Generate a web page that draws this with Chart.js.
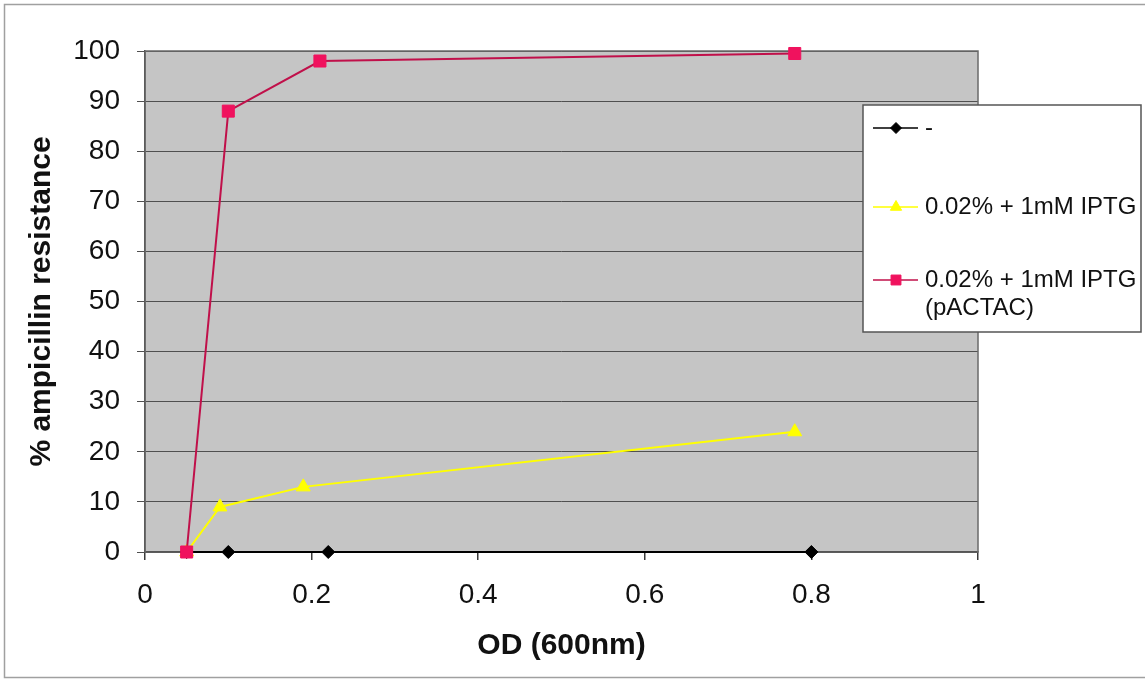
<!DOCTYPE html>
<html>
<head>
<meta charset="utf-8">
<script src="https://cdn.jsdelivr.net/npm/chart.js@4/dist/chart.umd.min.js"></script>
<style>
  html, body { margin: 0; padding: 0; background: #fff; }
  #wrap { width: 1145px; height: 680px; position: relative; }
</style>
</head>
<body>
<div id="wrap"><canvas id="c" width="1145" height="680"></canvas></div>
<script>
// Ampicillin resistance versus culture density (OD 600nm)
const odControl = [0.05, 0.1, 0.22, 0.8];
const resControl = [0, 0, 0, 0];

const odIptg = [0.05, 0.09, 0.19, 0.78];
const resIptg = [0, 9, 13, 24];

const odPactac = [0.05, 0.1, 0.21, 0.78];
const resPactac = [0, 88, 98, 99.5];

const seriesLabels = [['-'], ['0.02% + 1mM IPTG'], ['0.02% + 1mM IPTG', '(pACTAC)']];
const xTickValues = [0, 0.2, 0.4, 0.6, 0.8, 1];
const yTickValues = [0, 10, 20, 30, 40, 50, 60, 70, 80, 90, 100];

const FONT = '"Liberation Sans", Arial, sans-serif';

function pairs(xs, ys) { return xs.map((x, i) => ({ x: x, y: ys[i] })); }

// Grey plot area, page frame and plot border
const plotFrame = {
  id: 'plotFrame',
  beforeDraw(chart) {
    const { ctx, chartArea: a } = chart;
    ctx.save();
    ctx.strokeStyle = '#a0a0a0';
    ctx.lineWidth = 1.5;
    ctx.strokeRect(4.5, 4.5, 1150, 673);
    ctx.fillStyle = '#c5c5c5';
    ctx.fillRect(a.left, a.top, a.right - a.left, a.bottom - a.top);
    ctx.restore();
  },
  beforeDatasetsDraw(chart) {
    const { ctx, chartArea: a } = chart;
    ctx.save();
    ctx.strokeStyle = '#6a6a6a';
    ctx.lineWidth = 1.5;
    ctx.strokeRect(a.left, a.top, a.right - a.left, a.bottom - a.top);
    ctx.restore();
  }
};

// Boxed legend to the right of the plot
const sideLegend = {
  id: 'sideLegend',
  afterDraw(chart) {
    const ctx = chart.ctx;
    const box = { x: 863, y: 105, w: 278, h: 227 };
    const rows = [128, 207, 280];
    ctx.save();
    ctx.fillStyle = '#ffffff';
    ctx.fillRect(box.x, box.y, box.w, box.h);
    ctx.strokeStyle = '#555';
    ctx.lineWidth = 1.5;
    ctx.strokeRect(box.x, box.y, box.w, box.h);
    chart.data.datasets.forEach((ds, i) => {
      const y = rows[i];
      ctx.strokeStyle = ds.borderColor;
      ctx.lineWidth = 1.5;
      ctx.beginPath();
      ctx.moveTo(873, y);
      ctx.lineTo(918, y);
      ctx.stroke();
      ctx.fillStyle = ds.pointBackgroundColor;
      ctx.strokeStyle = ds.pointBorderColor;
      ctx.lineWidth = 1;
      Chart.helpers.drawPoint(ctx, {
        pointStyle: ds.pointStyle, radius: ds.legendRadius, borderWidth: 1, rotation: 0
      }, 896, y);
      ctx.fillStyle = '#111';
      ctx.font = '24px ' + FONT;
      ctx.textBaseline = 'middle';
      ctx.textAlign = 'left';
      seriesLabels[i].forEach((line, k) => ctx.fillText(line, 925, y + k * 28));
    });
    ctx.restore();
  }
};

new Chart(document.getElementById('c'), {
  type: 'line',
  data: {
    datasets: [
      {
        label: seriesLabels[0].join(' '),
        data: pairs(odControl, resControl),
        borderColor: '#000000',
        borderWidth: 2,
        pointStyle: 'rectRot',
        pointRadius: 6.5,
        legendRadius: 5.5,
        pointBackgroundColor: '#000000',
        pointBorderColor: '#000000',
        pointBorderWidth: 1,
        clip: false,
        order: 3
      },
      {
        label: seriesLabels[1].join(' '),
        data: pairs(odIptg, resIptg),
        borderColor: '#ffff00',
        borderWidth: 2,
        pointStyle: 'triangle',
        pointRadius: 8,
        legendRadius: 6.5,
        pointBackgroundColor: '#ffff00',
        pointBorderColor: '#ffff00',
        pointBorderWidth: 1,
        clip: false,
        order: 2
      },
      {
        label: seriesLabels[2].join(' '),
        data: pairs(odPactac, resPactac),
        borderColor: '#c0104a',
        borderWidth: 2,
        pointStyle: 'rect',
        pointRadius: 8.5,
        legendRadius: 7,
        pointBackgroundColor: '#f0125e',
        pointBorderColor: '#f0125e',
        pointBorderWidth: 1,
        clip: false,
        order: 1
      }
    ]
  },
  options: {
    responsive: false,
    animation: false,
    events: [],
    layout: { padding: { top: 51, right: 167, bottom: 0, left: 0 } },
    plugins: { legend: { display: false }, tooltip: { enabled: false } },
    elements: { line: { tension: 0 } },
    scales: {
      x: {
        type: 'linear',
        min: 0,
        max: 1,
        afterBuildTicks: s => { s.ticks = xTickValues.map(v => ({ value: v })); },
        afterFit: s => { s.height = 128; },
        grid: { drawOnChartArea: false, drawTicks: true, tickLength: 8, color: '#3a3a3a', lineWidth: 1.5 },
        border: { color: '#1a1a1a', width: 1.5 },
        ticks: {
          padding: 18,
          color: '#111',
          font: { family: FONT, size: 28 },
          maxRotation: 0,
          callback: v => String(+(+v).toFixed(1))
        },
        title: {
          display: true,
          text: 'OD (600nm)',
          color: '#111',
          font: { family: FONT, size: 30, weight: 'bold' },
          padding: { top: 0, bottom: 16 }
        }
      },
      y: {
        type: 'linear',
        min: 0,
        max: 100,
        afterBuildTicks: s => { s.ticks = yTickValues.map(v => ({ value: v })); },
        afterFit: s => { s.width = 145; },
        grid: { drawOnChartArea: true, drawTicks: true, tickLength: 8, color: '#505050', lineWidth: 1 },
        border: { color: '#333', width: 1.5 },
        ticks: {
          padding: 17,
          color: '#111',
          font: { family: FONT, size: 28 }
        },
        title: {
          display: true,
          text: '% ampicillin resistance',
          color: '#111',
          font: { family: FONT, size: 30, weight: 'bold' },
          padding: { top: 24, bottom: 0 }
        }
      }
    }
  },
  plugins: [plotFrame, sideLegend]
});
</script>
</body>
</html>
